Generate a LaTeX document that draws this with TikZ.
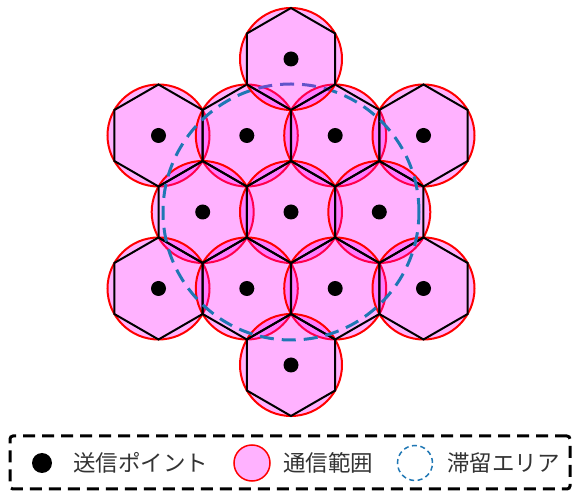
\documentclass[tikz,border=0pt]{standalone}
\usepackage{fontspec}
\newfontfamily\jp{Noto Sans CJK JP}
\definecolor{tabblue}{RGB}{31,119,180}
\definecolor{txtgray}{RGB}{51,51,51}
\definecolor{mag}{RGB}{255,0,255}
\definecolor{edgered}{RGB}{255,0,0}
\tikzset{
  cell/.style={circle, minimum size=102pt, inner sep=0pt, outer sep=0pt, fill=mag, fill opacity=0.3, draw=edgered, draw opacity=1, line width=2pt},
  hex/.style={draw=black, line width=2pt, line join=miter},
  dot/.style={circle, fill=black, minimum size=15pt, inner sep=0pt},
  area/.style={circle, minimum size=256pt, inner sep=0pt, draw=tabblue, line width=3pt, dash pattern=on 14pt off 8pt},
  legtext/.style={anchor=west, inner sep=0pt, font=\jp\fontsize{22.5}{26}\selectfont, text=txtgray},
  legbox/.style={draw=black, line width=3pt, dash pattern=on 12pt off 7pt, rounded corners=3pt}
}
\newcommand{\hexat}[1]{\draw[hex] (#1.center) +(90:51pt) -- +(150:51pt) -- +(210:51pt) -- +(270:51pt) -- +(330:51pt) -- +(30:51pt) -- cycle;}
\begin{document}
\begin{tikzpicture}[x=1pt,y=-1pt]
\useasboundingbox (0,0) rectangle (574,494);
% coordinates of cells
\coordinate (p1) at (291,59);
\coordinate (p2) at (158.5,135.5);
\coordinate (p3) at (246.8,135.5);
\coordinate (p4) at (335.2,135.5);
\coordinate (p5) at (423.5,135.5);
\coordinate (p6) at (202.7,212);
\coordinate (p7) at (291,212);
\coordinate (p8) at (379.3,212);
\coordinate (p9) at (158.5,288.5);
\coordinate (p10) at (246.8,288.5);
\coordinate (p11) at (335.2,288.5);
\coordinate (p12) at (423.5,288.5);
\coordinate (p13) at (291,365);
% coverage circles (all but top)
\foreach \i in {2,...,13} {\node[cell] (c\i) at (p\i) {};}
\foreach \i in {2,...,13} {\hexat{c\i}}
% stay area
\node[area] (stay) at (p7) {};
% top cell drawn last
\node[cell] (c1) at (p1) {};
\hexat{c1}
% transmit points
\foreach \i in {1,...,13} {\node[dot] (d\i) at (p\i) {};}
% legend
\node[legbox, minimum width=560pt, minimum height=53pt, inner sep=0pt] (legend) at (290,462.5) {};
\node[dot, minimum size=20pt] (ldot) at (42,463) {};
\node[legtext] (ltx1) at (73,463) {送信ポイント};
\node[circle, minimum size=36pt, inner sep=0pt, fill=mag, fill opacity=0.3, draw=edgered, draw opacity=1, line width=1.5pt] (lcell) at (252,463) {};
\node[legtext] (ltx2) at (283,463) {通信範囲};
\node[circle, minimum size=35pt, inner sep=0pt, draw=tabblue, line width=1.5pt, dash pattern=on 5pt off 3.5pt] (larea) at (415,463) {};
\node[legtext] (ltx3) at (447,463) {滞留エリア};
\end{tikzpicture}
\end{document}
